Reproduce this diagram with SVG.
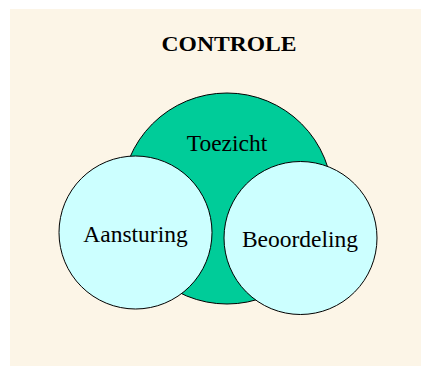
<svg xmlns="http://www.w3.org/2000/svg" width="421" height="366" viewBox="0 0 421 366">
<style>
.c{stroke:#000;stroke-width:1}
.t{font-family:"Liberation Serif","Times New Roman",serif;font-size:23.5px;fill:#000;text-anchor:middle}
</style>
<rect x="10" y="9" width="411" height="357" fill="#FCF5E7"/>
<text x="229" y="51" font-family="Liberation Serif, serif" font-weight="bold" font-size="22" text-anchor="middle" textLength="135" lengthAdjust="spacingAndGlyphs">CONTROLE</text>
<g id="toezicht">
<circle class="c" cx="227" cy="198.5" r="105.5" fill="#00CC99"/>
<text class="t" x="227" y="151">Toezicht</text>
</g>
<g id="aansturing">
<circle class="c" cx="135.5" cy="232.5" r="76.5" fill="#CCFFFF"/>
<text class="t" x="135.5" y="242">Aansturing</text>
</g>
<g id="beoordeling">
<circle class="c" cx="300.5" cy="238" r="76.5" fill="#CCFFFF"/>
<text class="t" x="300" y="247">Beoordeling</text>
</g>
<g id="connectors"/>
</svg>
